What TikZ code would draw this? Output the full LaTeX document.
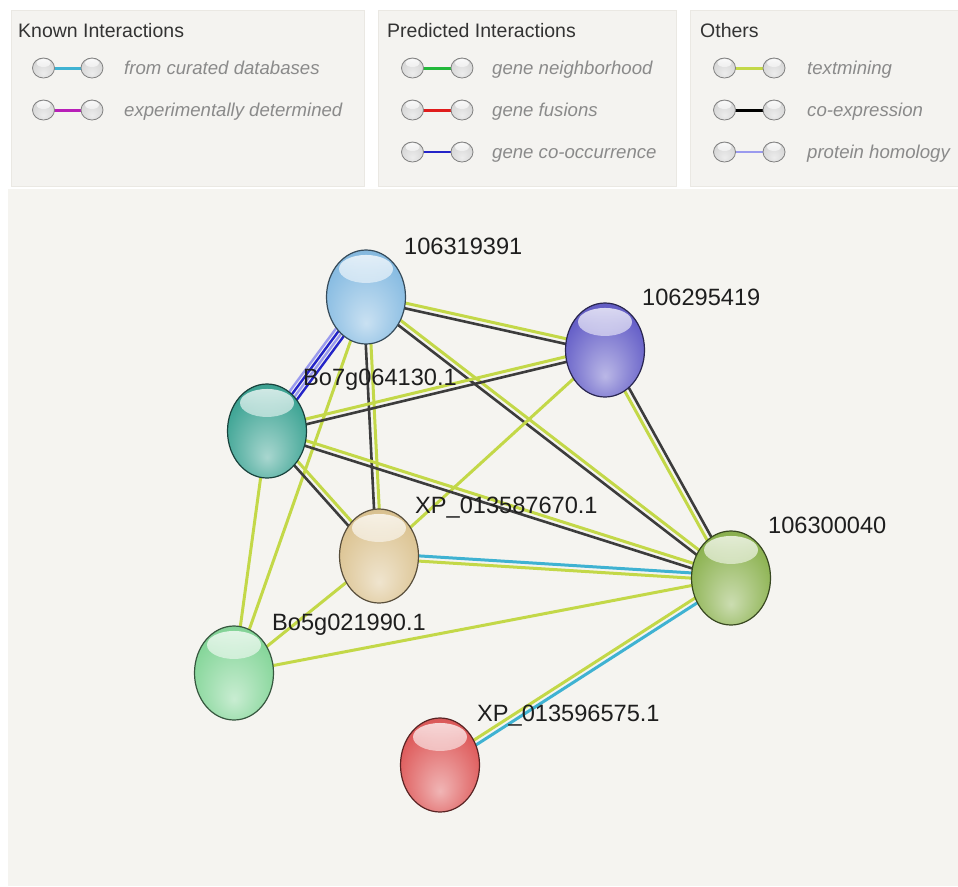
\documentclass[tikz,border=0pt]{standalone}
\usepackage{fontspec}
\setmainfont{Liberation Sans}
\usetikzlibrary{shapes.geometric,calc,fadings}
\pgfdeclarelayer{bg}\pgfdeclarelayer{edges}\pgfsetlayers{bg,edges,main}
\definecolor{graphbg}{HTML}{F5F4F0}
\definecolor{panelbg}{HTML}{F4F3F0}
\definecolor{panelline}{HTML}{EAE8E3}
\definecolor{titlecol}{HTML}{333333}
\definecolor{itemcol}{HTML}{8A8A8A}
\definecolor{labcol}{HTML}{1E1E1E}
\definecolor{tmcol}{HTML}{C3D848}
\definecolor{cecol}{HTML}{3C3C3C}
\definecolor{dbcol}{HTML}{3FB2D2}
\definecolor{excol}{HTML}{B81FB8}
\definecolor{nbcol}{HTML}{22B83A}
\definecolor{fucol}{HTML}{E01C1C}
\definecolor{cocol}{HTML}{2424C8}
\definecolor{hocol}{HTML}{9A9AEE}
\definecolor{cA}{HTML}{88BCE2}
\definecolor{cB}{HTML}{6660C8}
\definecolor{cC}{HTML}{3FA595}
\definecolor{cD}{HTML}{DCC493}
\definecolor{cE}{HTML}{8DB352}
\definecolor{cF}{HTML}{86D69A}
\definecolor{cG}{HTML}{DE5B5B}
\definecolor{cL}{HTML}{D6D6D6}
\colorlet{sphc}{cA}
\pgfdeclareradialshading[sphc]{sphere}{\pgfpoint{0bp}{-14bp}}{%
  color(0bp)=(sphc!45!white); color(15bp)=(sphc!75!white); color(28bp)=(sphc);
  color(38bp)=(sphc!88!black); color(45bp)=(sphc!70!black); color(50bp)=(sphc!45!black)}
\newcommand\strlink[4]{\draw[#1] ($(#3.center)!#2pt!90:(#4.center)$) -- ($(#4.center)!#2pt!-90:(#3.center)$);}
\tikzset{
  sphere color/.code={\colorlet{sphc}{#1}},
  big/.style={ellipse, minimum width=79pt, minimum height=94pt, inner sep=0pt,
    shade, shading=sphere, sphere color=#1, draw=#1!40!black, line width=1.2pt,
    path picture={\fill[white, path fading=south, fill opacity=0.8]
      ([yshift=-19pt]path picture bounding box.north) ellipse[x radius=27pt, y radius=14pt];}},
  small/.style={ellipse, minimum width=22pt, minimum height=20pt, inner sep=0pt,
    shade, shading=sphere, sphere color=cL, draw=gray, line width=0.8pt,
    path picture={\fill[white, path fading=south, fill opacity=0.9]
      ([yshift=-5pt]path picture bounding box.north) ellipse[x radius=7pt, y radius=4pt];}},
  lab/.style={anchor=base west, inner sep=0pt, text=labcol, font=\fontsize{23.6}{26}\selectfont},
  ttl/.style={anchor=base west, inner sep=0pt, text=titlecol, font=\fontsize{19.5}{22}\selectfont},
  itm/.style={anchor=base west, inner sep=0pt, text=itemcol, font=\fontsize{18.6}{21}\selectfont\itshape},
  tm/.style={draw=tmcol, line width=3pt},
  ce/.style={draw=cecol, line width=2.6pt},
  db/.style={draw=dbcol, line width=3pt},
  ex/.style={draw=excol, line width=3pt},
  nb/.style={draw=nbcol, line width=3pt},
  fu/.style={draw=fucol, line width=3pt},
  co/.style={draw=cocol, line width=2.4pt},
  ho/.style={draw=hocol, line width=2.4pt},
}
\begin{document}
\begin{tikzpicture}[x=1pt,y=-1pt]
\useasboundingbox (0,0) rectangle (958,886);
\begin{pgfonlayer}{bg}
  \fill[white] (0,0) rectangle (958,886);
  \fill[graphbg] (8,189) rectangle (958,886);
  \filldraw[fill=panelbg, draw=panelline, line width=1pt] (11,10) rectangle (364,186);
  \filldraw[fill=panelbg, draw=panelline, line width=1pt] (378,10) rectangle (676,186);
  \filldraw[fill=panelbg, draw=panelline, line width=1pt] (690,10) rectangle (966,186);
\end{pgfonlayer}

% ---------- legend ----------
\node[ttl] (t1) at (18,37) {Known Interactions};
\node[ttl] (t2) at (387,37) {Predicted Interactions};
\node[ttl] (t3) at (700,37) {Others};

\node[small] (k1a) at (43.5,68) {}; \node[small] (k1b) at (92,68) {};
\node[small] (k2a) at (43.5,110) {}; \node[small] (k2b) at (92,110) {};
\node[itm] (k1t) at (124,74) {from curated databases};
\node[itm] (k2t) at (124,116) {experimentally determined};

\node[small] (p1a) at (412.5,68) {}; \node[small] (p1b) at (462,68) {};
\node[small] (p2a) at (412.5,110) {}; \node[small] (p2b) at (462,110) {};
\node[small] (p3a) at (412.5,152) {}; \node[small] (p3b) at (462,152) {};
\node[itm] (p1t) at (492,74) {gene neighborhood};
\node[itm] (p2t) at (492,116) {gene fusions};
\node[itm] (p3t) at (492,158) {gene co-occurrence};

\node[small] (o1a) at (724.5,68) {}; \node[small] (o1b) at (774,68) {};
\node[small] (o2a) at (724.5,110) {}; \node[small] (o2b) at (774,110) {};
\node[small] (o3a) at (724.5,152) {}; \node[small] (o3b) at (774,152) {};
\node[itm] (o1t) at (807,74) {textmining};
\node[itm] (o2t) at (807,116) {co-expression};
\node[itm] (o3t) at (807,158) {protein homology};

\begin{pgfonlayer}{edges}
  \strlink{db}{0}{k1a}{k1b}
  \strlink{ex}{0}{k2a}{k2b}
  \strlink{nb}{0}{p1a}{p1b}
  \strlink{fu}{0}{p2a}{p2b}
  \strlink{co}{0}{p3a}{p3b}
  \strlink{tm}{0}{o1a}{o1b}
  \strlink{draw=black, line width=3pt}{0}{o2a}{o2b}
  \strlink{ho}{0}{o3a}{o3b}
\end{pgfonlayer}

% ---------- network nodes ----------
\node[big=cA] (A) at (366,297) {};
\node[big=cB] (B) at (605,350) {};
\node[big=cC] (C) at (267,431) {};
\node[big=cD] (D) at (379,556) {};
\node[big=cE] (E) at (731,578) {};
\node[big=cF] (F) at (234,673) {};
\node[big=cG] (G) at (440,765) {};

\node[lab] (lA) at (404,254) {106319391};
\node[lab] (lB) at (642,305) {106295419};
\node[lab] (lC) at (303,385) {Bo7g064130.1};
\node[lab] (lD) at (415,513) {XP\_013587670.1};
\node[lab] (lE) at (768,533) {106300040};
\node[lab] (lF) at (272,630) {Bo5g021990.1};
\node[lab] (lG) at (477,721) {XP\_013596575.1};

% ---------- network edges ----------
\begin{pgfonlayer}{edges}
  \strlink{tm}{2.6}{A}{B}  \strlink{ce}{-2.6}{A}{B}
  \strlink{ho}{-5.4}{A}{C} \strlink{co}{-1.8}{A}{C}
  \strlink{ho}{1.8}{A}{C}  \strlink{co}{5.4}{A}{C}
  \strlink{ce}{-2.6}{A}{D} \strlink{tm}{2.6}{A}{D}
  \strlink{tm}{2.6}{A}{E}  \strlink{ce}{-2.6}{A}{E}
  \strlink{tm}{0}{A}{F}
  \strlink{tm}{-2.6}{B}{C} \strlink{ce}{2.6}{B}{C}
  \strlink{tm}{0}{B}{D}
  \strlink{ce}{2.6}{B}{E}  \strlink{tm}{-2.6}{B}{E}
  \strlink{tm}{2.6}{C}{D}  \strlink{ce}{-2.6}{C}{D}
  \strlink{tm}{2.6}{C}{E}  \strlink{ce}{-2.6}{C}{E}
  \strlink{tm}{0}{C}{F}
  \strlink{db}{2.6}{D}{E}  \strlink{tm}{-2.6}{D}{E}
  \strlink{tm}{0}{D}{F}
  \strlink{tm}{0}{E}{F}
  \strlink{tm}{-2.6}{E}{G} \strlink{db}{2.6}{E}{G}
\end{pgfonlayer}
\end{tikzpicture}
\end{document}
